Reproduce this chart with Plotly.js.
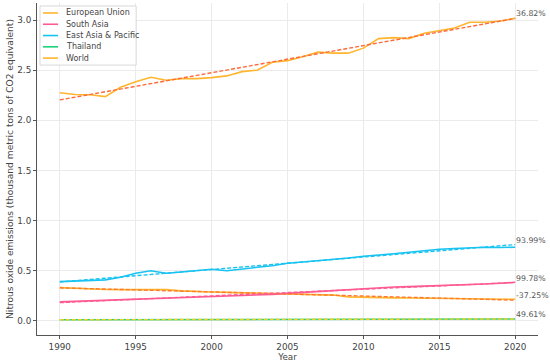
<!DOCTYPE html>
<html>
<head>
<meta charset="utf-8">
<script src="https://cdn.plot.ly/plotly-3.0.1.min.js"></script>
<style>html,body{margin:0;padding:0;background:#fff}#chart{width:550px;height:363px}</style>
</head>
<body>
<div id="chart"></div>
<script>
const years = [1990,1991,1992,1993,1994,1995,1996,1997,1998,1999,2000,2001,2002,2003,2004,2005,2006,2007,2008,2009,2010,2011,2012,2013,2014,2015,2016,2017,2018,2019,2020];
const europeanUnion = [0.332,0.325,0.318,0.314,0.312,0.310,0.314,0.312,0.300,0.292,0.288,0.285,0.281,0.279,0.277,0.275,0.270,0.266,0.258,0.240,0.235,0.232,0.230,0.229,0.228,0.227,0.225,0.224,0.222,0.219,0.216];
const southAsia = [0.190,0.195,0.201,0.207,0.213,0.219,0.225,0.230,0.235,0.240,0.244,0.248,0.250,0.256,0.265,0.275,0.285,0.295,0.305,0.315,0.325,0.333,0.338,0.342,0.346,0.350,0.355,0.361,0.368,0.376,0.386];
const eastAsiaPacific = [0.392,0.400,0.405,0.410,0.435,0.475,0.500,0.475,0.488,0.500,0.515,0.500,0.520,0.535,0.550,0.575,0.588,0.600,0.615,0.628,0.645,0.655,0.670,0.685,0.700,0.715,0.722,0.730,0.735,0.733,0.735];
const thailand = [0.012,0.012,0.012,0.013,0.013,0.013,0.014,0.014,0.014,0.014,0.015,0.015,0.015,0.015,0.016,0.016,0.016,0.016,0.017,0.017,0.018,0.018,0.018,0.018,0.018,0.018,0.019,0.019,0.019,0.019,0.019];
const world = [2.276,2.258,2.255,2.237,2.330,2.385,2.430,2.400,2.416,2.416,2.426,2.443,2.486,2.500,2.580,2.595,2.635,2.680,2.670,2.670,2.720,2.815,2.825,2.815,2.868,2.894,2.920,2.978,2.978,2.990,3.018];
const seriesNames = ["European Union","South Asia","East Asia & Pacific","Thailand","World"];
const changeLabels = ["-37.25%","99.78%","93.99%","49.61%","36.82%"];

const seriesValues = [europeanUnion, southAsia, eastAsiaPacific, thailand, world];
const lineColors = ["#FFB52E","#FF5A93","#18C3F2","#22D27E","#FFB52E"];
const trendColors = ["#FF7A2E","#FF5A93","#18C3F2","#E8D22A","#FF6A3A"];

function fit(x, y){
  const n = x.length;
  let sx=0,sy=0,sxx=0,sxy=0;
  for(let i=0;i<n;i++){sx+=x[i];sy+=y[i];sxx+=x[i]*x[i];sxy+=x[i]*y[i];}
  const b=(n*sxy-sx*sy)/(n*sxx-sx*sx); const a=(sy-b*sx)/n;
  return x.map(v=>a+b*v);
}

const traces = [];
const annotations = [];
const shapes = [];
seriesValues.forEach((vals,i)=>{
  traces.push({x:years,y:vals,type:'scatter',mode:'lines',name:seriesNames[i],
    line:{color:lineColors[i],width:1.6},showlegend:false,hoverinfo:'skip'});
});
seriesValues.forEach((vals,i)=>{
  const tr = fit(years, vals);
  traces.push({x:years,y:tr,type:'scatter',mode:'lines',showlegend:false,
    line:{color:trendColors[i],width:1.4,dash:'4px,2px'},hoverinfo:'skip'});
  annotations.push({x:years[years.length-1],y:tr[tr.length-1],xref:'x',yref:'y',
    text:changeLabels[i],showarrow:false,xanchor:'left',yanchor:'bottom',xshift:-1,yshift:-2,
    font:{family:'DejaVu Sans',size:7.8,color:'#555'}});
});

// legend box (drawn manually for compact spacing)
const lx0=0.006,lx1=0.198,ly0=0.813,ly1=0.991;
shapes.push({type:'rect',xref:'paper',yref:'paper',x0:lx0,x1:lx1,y0:ly0,y1:ly1,
  line:{color:'#d9d9d9',width:1},fillcolor:'rgba(255,255,255,0.9)',layer:'above'});
const legY=[0.970,0.936,0.902,0.868,0.834];
seriesNames.forEach((nm,i)=>{
  shapes.push({type:'line',xref:'paper',yref:'paper',x0:0.012,x1:0.042,y0:legY[i],y1:legY[i],
    line:{color:lineColors[i],width:1.6},layer:'above'});
  annotations.push({xref:'paper',yref:'paper',x:0.054,y:legY[i],text:nm,showarrow:false,
    xanchor:'left',yanchor:'middle',font:{family:'DejaVu Sans',size:8,color:'#444'}});
});

const layout = {
  width:550,height:363,
  margin:{l:37,r:12,t:3,b:28},
  paper_bgcolor:'#fff',plot_bgcolor:'#fff',
  showlegend:false,
  font:{family:'DejaVu Sans',color:'#444'},
  xaxis:{range:[1988.5,2021.5],tickvals:[1990,1995,2000,2005,2010,2015,2020],
    showgrid:true,gridcolor:'#ebebeb',gridwidth:1,zeroline:false,
    showline:true,linecolor:'#555',linewidth:1,ticks:'outside',ticklen:3,tickcolor:'#555',
    tickfont:{size:8.8,color:'#444'},
    title:{text:'Year',font:{size:8.8,color:'#444'},standoff:2},automargin:false},
  yaxis:{range:[-0.14,3.17],dtick:0.5,tick0:0,tickformat:'.1f',
    showgrid:true,gridcolor:'#ebebeb',gridwidth:1,zeroline:false,
    showline:true,linecolor:'#555',linewidth:1,ticks:'outside',ticklen:3,tickcolor:'#555',
    tickfont:{size:8.8,color:'#444'},
    title:{text:'Nitrous oxide emissions (thousand metric tons of CO2 equivalent)',font:{size:9.1,color:'#444'},standoff:2},automargin:false},
  annotations:annotations,
  shapes:shapes
};
Plotly.newPlot('chart',traces,layout,{staticPlot:true,displayModeBar:false});
</script>
</body>
</html>
